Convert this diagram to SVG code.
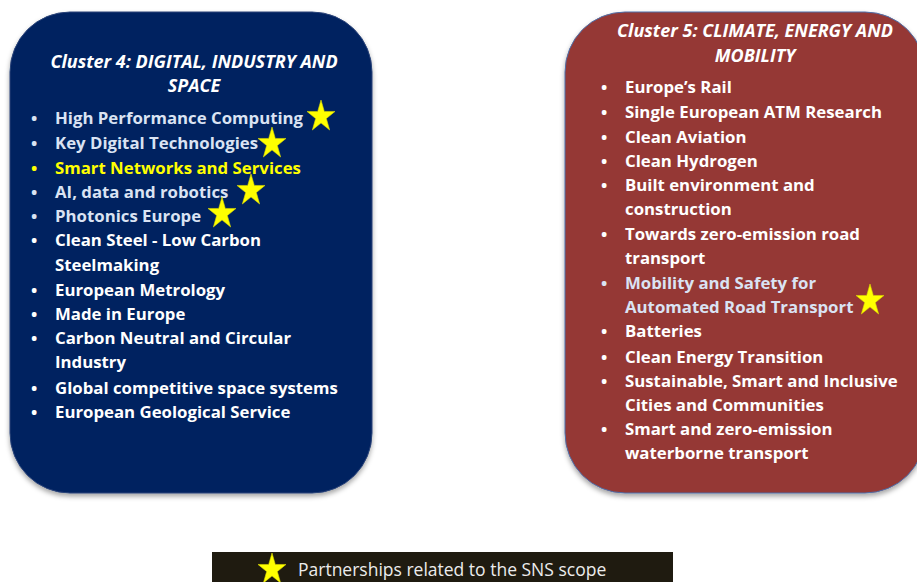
<svg xmlns="http://www.w3.org/2000/svg" xmlns:xlink="http://www.w3.org/1999/xlink" width="917" height="582" viewBox="0 0 917 582">
<defs>
<filter id="sh" x="-10%" y="-10%" width="120%" height="120%">
<feDropShadow dx="0" dy="3" stdDeviation="2.5" flood-color="#000" flood-opacity="0.35"/>
</filter>
<path id="star" d="M0,-15 L3.3,-3.54 L14,-3.54 L5.35,3.54 L8.65,15 L0,7.92 L-8.65,15 L-5.35,3.54 L-14,-3.54 L-3.3,-3.54 Z"/>
</defs>
<style>
text{font-family:"Open Sans","Liberation Sans",sans-serif;}
.t{font-weight:bold;font-style:italic;font-size:18px;fill:#fff;text-anchor:middle;}
.i{font-weight:bold;font-size:16.8px;fill:#fff;}
.lb{fill:#dae3f3;}
.y{fill:#ffff00;}
.st{fill:#ffff00;stroke:#d8d800;stroke-width:0.6;}
</style>
<rect width="917" height="582" fill="#fff"/>
<g id="cluster4">
<rect x="10" y="12" width="362" height="481" rx="60" ry="60" fill="#002060" stroke="#2a4478" stroke-width="1" filter="url(#sh)"/>
<text class="t" x="194" y="68">Cluster 4: DIGITAL, INDUSTRY AND</text>
<text class="t" x="194" y="92">SPACE</text>
<g class="i">
<text x="31" y="124" class="lb">•</text><text x="55" y="124" class="lb">High Performance Computing</text>
<text x="31" y="149" class="lb">•</text><text x="55" y="149" class="lb">Key Digital Technologies</text>
<text x="31" y="174" class="y">•</text><text x="55" y="174" class="y">Smart Networks and Services</text>
<text x="31" y="198" class="lb">•</text><text x="55" y="198" class="lb">AI, data and robotics</text>
<text x="31" y="222" class="lb">•</text><text x="55" y="222" class="lb">Photonics Europe</text>
<text x="31" y="246">•</text><text x="55" y="246">Clean Steel - Low Carbon</text>
<text x="55" y="271">Steelmaking</text>
<text x="31" y="296">•</text><text x="55" y="296">European Metrology</text>
<text x="31" y="320">•</text><text x="55" y="320">Made in Europe</text>
<text x="31" y="344">•</text><text x="55" y="344">Carbon Neutral and Circular</text>
<text x="55" y="368">Industry</text>
<text x="31" y="394">•</text><text x="55" y="394">Global competitive space systems</text>
<text x="31" y="418">•</text><text x="55" y="418">European Geological Service</text>
</g>
<use xlink:href="#star" href="#star" class="st" x="321" y="115"/>
<use xlink:href="#star" href="#star" class="st" x="272" y="142"/>
<use xlink:href="#star" href="#star" class="st" x="251" y="189"/>
<use xlink:href="#star" href="#star" class="st" x="222" y="212"/>
</g>
<g id="cluster5">
<rect x="565" y="12" width="360" height="481" rx="60" ry="60" fill="#953735" stroke="#4f6fa8" stroke-width="1" filter="url(#sh)"/>
<text class="t" x="755" y="37">Cluster 5: CLIMATE, ENERGY AND</text>
<text class="t" x="755" y="62">MOBILITY</text>
<g class="i">
<text x="601" y="93">•</text><text x="625" y="93">Europe’s Rail</text>
<text x="601" y="118">•</text><text x="625" y="118">Single European ATM Research</text>
<text x="601" y="143">•</text><text x="625" y="143">Clean Aviation</text>
<text x="601" y="167">•</text><text x="625" y="167">Clean Hydrogen</text>
<text x="601" y="191">•</text><text x="625" y="191">Built environment and</text>
<text x="625" y="215">construction</text>
<text x="601" y="240">•</text><text x="625" y="240">Towards zero-emission road</text>
<text x="625" y="264">transport</text>
<text x="601" y="289" class="lb">•</text><text x="625" y="289" class="lb">Mobility and Safety for</text>
<text x="625" y="313" class="lb">Automated Road Transport</text>
<text x="601" y="337">•</text><text x="625" y="337">Batteries</text>
<text x="601" y="363">•</text><text x="625" y="363">Clean Energy Transition</text>
<text x="601" y="387">•</text><text x="625" y="387">Sustainable, Smart and Inclusive</text>
<text x="625" y="411">Cities and Communities</text>
<text x="601" y="435">•</text><text x="625" y="435">Smart and zero-emission</text>
<text x="625" y="459">waterborne transport</text>
</g>
<use xlink:href="#star" href="#star" class="st" x="870" y="299"/>
</g>
<g id="legend">
<rect x="212" y="552" width="461" height="32" fill="#1f1b10"/>
<use xlink:href="#star" href="#star" class="st" x="272" y="568"/>
<text x="298" y="576" font-size="17.5" fill="#ececec">Partnerships related to the SNS scope</text>
</g>
<g id="connectors"></g>
</svg>
